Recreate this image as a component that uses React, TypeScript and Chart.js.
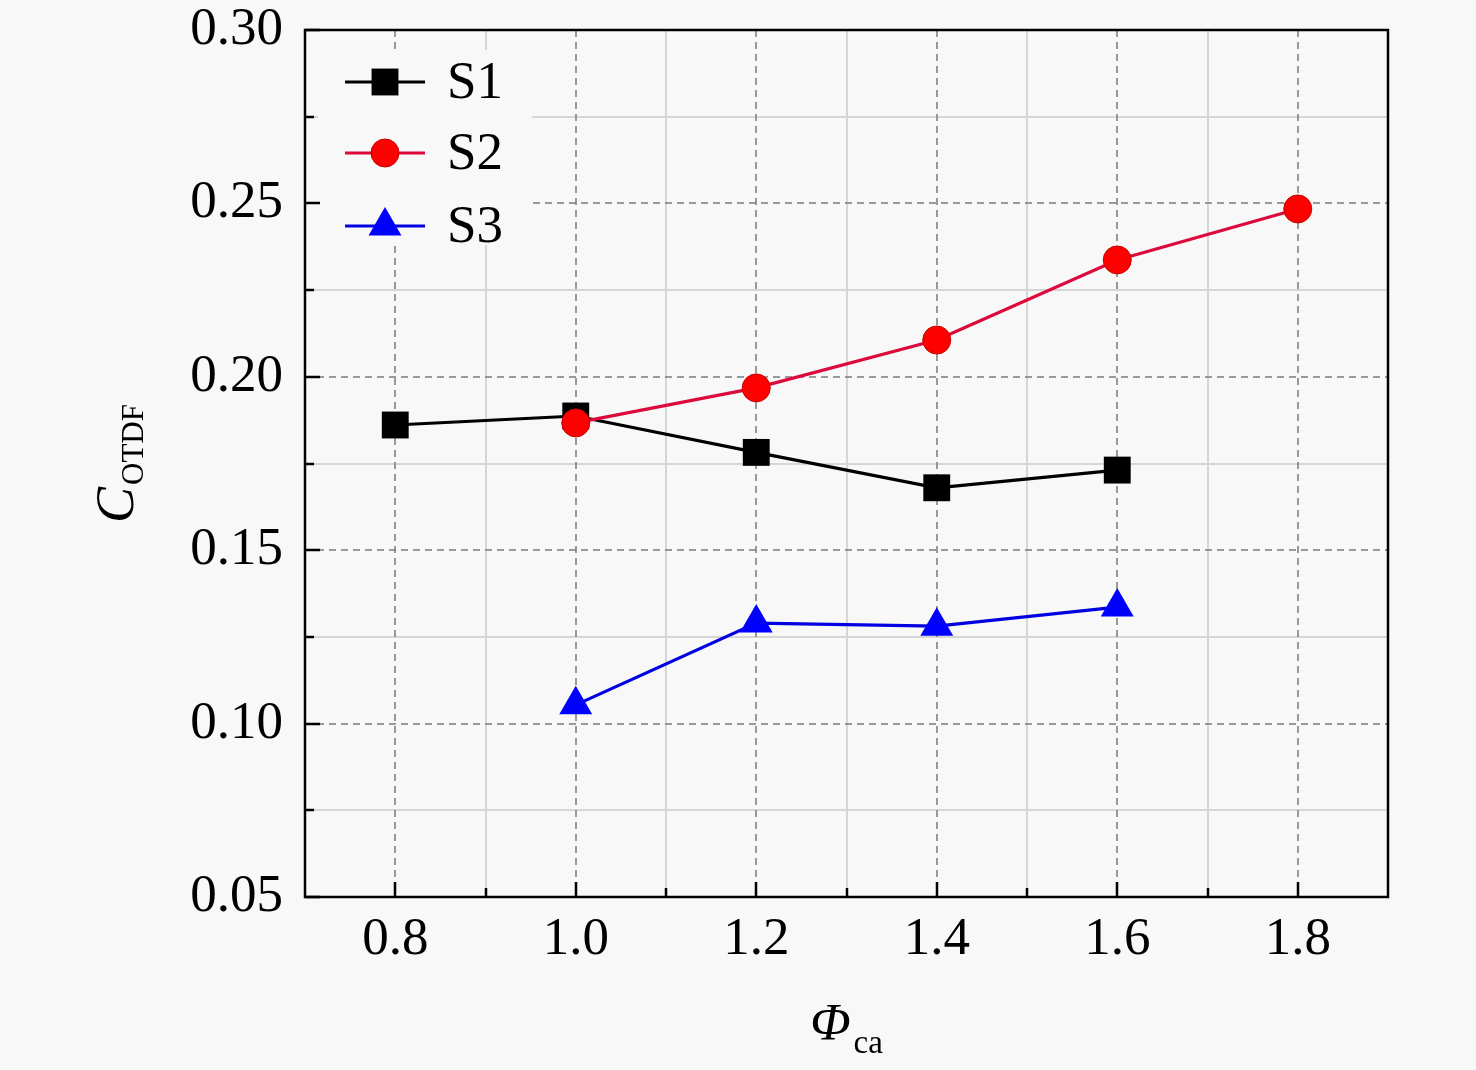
import React, { useEffect, useRef } from "react";
import { Chart, registerables } from "chart.js";
Chart.register(...registerables);

const S1_X = [0.8, 1.0, 1.2, 1.4, 1.6];
const S1_Y = [0.1861, 0.1887, 0.1782, 0.168, 0.1731];
const S2_X = [1.0, 1.2, 1.4, 1.6, 1.8];
const S2_Y = [0.1867, 0.1968, 0.2106, 0.2337, 0.2484];
const S3_X = [1.0, 1.2, 1.4, 1.6];
const S3_Y = [0.1054, 0.129, 0.1281, 0.1336];
const SERIES_NAMES = ["S1", "S2", "S3"];
const X_TICKS = [0.8, 1.0, 1.2, 1.4, 1.6, 1.8];
const X_MINOR = [0.9, 1.1, 1.3, 1.5, 1.7];
const Y_TICKS = [0.05, 0.1, 0.15, 0.2, 0.25, 0.3];
const Y_MINOR = [0.075, 0.125, 0.175, 0.225, 0.275];

const FONT = '"Liberation Serif", "Times New Roman", serif';
const BG = "#f8f8f8";

function shapePath(ctx: CanvasRenderingContext2D, style: string, r: number, x: number, y: number) {
  ctx.beginPath();
  if (style === "rect") {
    const s = Math.SQRT1_2 * r;
    ctx.rect(x - s, y - s, 2 * s, 2 * s);
  } else if (style === "triangle") {
    let rad = 0;
    ctx.moveTo(x + Math.sin(rad) * r, y - Math.cos(rad) * r);
    rad += (2 * Math.PI) / 3;
    ctx.lineTo(x + Math.sin(rad) * r, y - Math.cos(rad) * r);
    rad += (2 * Math.PI) / 3;
    ctx.lineTo(x + Math.sin(rad) * r, y - Math.cos(rad) * r);
    ctx.closePath();
  } else {
    ctx.arc(x, y, r, 0, Math.PI * 2);
    ctx.closePath();
  }
}

const decor = {
  id: "decor",
  beforeDraw(chart: any) {
    const ctx = chart.ctx;
    ctx.save();
    ctx.fillStyle = BG;
    ctx.fillRect(0, 0, chart.width, chart.height);
    ctx.restore();
  },
  beforeDatasetsDraw(chart: any) {
    const { ctx, chartArea: a, scales } = chart;
    const xs = scales.x, ys = scales.y;
    ctx.save();
    ctx.strokeStyle = "#d6d6d6";
    ctx.lineWidth = 2;
    ctx.setLineDash([]);
    X_MINOR.forEach((v) => {
      const px = Math.round(xs.getPixelForValue(v));
      ctx.beginPath(); ctx.moveTo(px, a.top); ctx.lineTo(px, a.bottom); ctx.stroke();
    });
    Y_MINOR.forEach((v) => {
      const py = Math.round(ys.getPixelForValue(v));
      ctx.beginPath(); ctx.moveTo(a.left, py); ctx.lineTo(a.right, py); ctx.stroke();
    });
    ctx.strokeStyle = "#7a7a7a";
    ctx.lineWidth = 1.5;
    ctx.setLineDash([7, 5]);
    X_TICKS.forEach((v) => {
      const px = Math.round(xs.getPixelForValue(v));
      ctx.beginPath(); ctx.moveTo(px, a.top); ctx.lineTo(px, a.bottom); ctx.stroke();
    });
    Y_TICKS.forEach((v) => {
      const py = Math.round(ys.getPixelForValue(v));
      ctx.beginPath(); ctx.moveTo(a.left, py); ctx.lineTo(a.right, py); ctx.stroke();
    });
    ctx.restore();
  },
  afterDatasetsDraw(chart: any) {
    const { ctx, chartArea: a, scales } = chart;
    const xs = scales.x, ys = scales.y;
    ctx.save();
    // legend
    const lx = a.left + 13, ly = a.top + 20;
    ctx.fillStyle = BG;
    ctx.fillRect(lx, ly, 214, 195);
    const rows = [52, 123, 196];
    chart.data.datasets.forEach((ds: any, i: number) => {
      const y = a.top + rows[i];
      const x0 = a.left + 40, x1 = a.left + 120, xm = a.left + 80;
      ctx.strokeStyle = ds.borderColor;
      ctx.lineWidth = ds.borderWidth;
      ctx.setLineDash([]);
      ctx.beginPath(); ctx.moveTo(x0, y); ctx.lineTo(x1, y); ctx.stroke();
      shapePath(ctx, ds.pointStyle, ds.pointRadius, xm, y);
      ctx.fillStyle = ds.pointBackgroundColor;
      ctx.fill();
      if (ds.pointBorderWidth > 0) {
        ctx.strokeStyle = ds.pointBorderColor;
        ctx.lineWidth = ds.pointBorderWidth;
        ctx.stroke();
      }
      ctx.fillStyle = "#000";
      ctx.font = `53px ${FONT}`;
      ctx.textAlign = "left";
      ctx.textBaseline = "middle";
      ctx.fillText(SERIES_NAMES[i], a.left + 142, y + 2);
    });
    // frame
    ctx.strokeStyle = "#000";
    ctx.lineWidth = 2.5;
    ctx.setLineDash([]);
    ctx.strokeRect(a.left, a.top, a.right - a.left, a.bottom - a.top);
    X_TICKS.forEach((v) => {
      const px = Math.round(xs.getPixelForValue(v));
      ctx.beginPath(); ctx.moveTo(px, a.bottom); ctx.lineTo(px, a.bottom - 15); ctx.stroke();
    });
    X_MINOR.forEach((v) => {
      const px = Math.round(xs.getPixelForValue(v));
      ctx.beginPath(); ctx.moveTo(px, a.bottom); ctx.lineTo(px, a.bottom - 9); ctx.stroke();
    });
    Y_TICKS.forEach((v) => {
      const py = Math.round(ys.getPixelForValue(v));
      ctx.beginPath(); ctx.moveTo(a.left, py); ctx.lineTo(a.left + 15, py); ctx.stroke();
    });
    Y_MINOR.forEach((v) => {
      const py = Math.round(ys.getPixelForValue(v));
      ctx.beginPath(); ctx.moveTo(a.left, py); ctx.lineTo(a.left + 9, py); ctx.stroke();
    });
    // x title
    ctx.fillStyle = "#000";
    ctx.textBaseline = "alphabetic";
    ctx.textAlign = "left";
    const bigX = `italic 53px ${FONT}`;
    const smallF = `33px ${FONT}`;
    ctx.font = bigX;
    const wPhi = ctx.measureText("\u03A6").width;
    ctx.font = smallF;
    const wCa = ctx.measureText("ca").width;
    const cx = (a.left + a.right) / 2;
    const startX = cx - (wPhi + 3 + wCa) / 2;
    ctx.font = bigX;
    ctx.fillText("\u03A6", startX, a.bottom + 143);
    ctx.font = smallF;
    ctx.fillText("ca", startX + wPhi + 3, a.bottom + 156);
    // y title
    ctx.font = `italic 54px ${FONT}`;
    const wC = ctx.measureText("C").width;
    ctx.font = `31px ${FONT}`;
    const wSub = ctx.measureText("OTDF").width;
    const cy = (a.top + a.bottom) / 2;
    ctx.translate(a.left - 172, cy + (wC + 2 + wSub) / 2);
    ctx.rotate(-Math.PI / 2);
    ctx.font = `italic 54px ${FONT}`;
    ctx.fillText("C", 0, 0);
    ctx.font = `31px ${FONT}`;
    ctx.fillText("OTDF", wC + 2, 10);
    ctx.restore();
  },
};

export default function App() {
  const ref = useRef<HTMLCanvasElement | null>(null);
  useEffect(() => {
    if (!ref.current) return;
    const toPts = (xs: number[], ys: number[]) => xs.map((x, i) => ({ x, y: ys[i] }));
    const chart = new Chart(ref.current, {
      type: "line",
      data: {
        datasets: [
          {
            label: SERIES_NAMES[0],
            data: toPts(S1_X, S1_Y),
            borderColor: "#000000",
            borderWidth: 3.2,
            pointStyle: "rect",
            pointRadius: 19,
            pointBackgroundColor: "#000000",
            pointBorderColor: "#000000",
            pointBorderWidth: 0,
            order: 1,
          },
          {
            label: SERIES_NAMES[1],
            data: toPts(S2_X, S2_Y),
            borderColor: "#dc0a3c",
            borderWidth: 3.2,
            pointStyle: "circle",
            pointRadius: 14,
            pointBackgroundColor: "#ff0000",
            pointBorderColor: "#c80000",
            pointBorderWidth: 1,
            order: 0,
          },
          {
            label: SERIES_NAMES[2],
            data: toPts(S3_X, S3_Y),
            borderColor: "#0000e0",
            borderWidth: 3.2,
            pointStyle: "triangle",
            pointRadius: 19,
            pointBackgroundColor: "#0000ff",
            pointBorderColor: "#0000ff",
            pointBorderWidth: 0,
            order: 2,
          },
        ] as any,
      },
      options: {
        animation: false,
        responsive: false,
        devicePixelRatio: 1,
        layout: { padding: { left: 0, right: 88, top: 30, bottom: 0 } },
        plugins: { legend: { display: false }, tooltip: { enabled: false } },
        scales: {
          x: {
            type: "linear",
            min: 0.7,
            max: 1.9,
            afterBuildTicks: (s: any) => { s.ticks = X_TICKS.map((v) => ({ value: v })); },
            afterFit: (s: any) => { s.height = 173; s.paddingLeft = 0; s.paddingRight = 0; s.paddingTop = 0; s.paddingBottom = 0; },
            grid: { display: false, drawTicks: false },
            border: { display: false },
            ticks: {
              autoSkip: false,
              maxRotation: 0,
              padding: 17,
              color: "#000",
              font: { family: FONT, size: 53, lineHeight: 1 },
              callback: (v: any) => Number(v).toFixed(1),
            },
          },
          y: {
            type: "linear",
            min: 0.05,
            max: 0.3,
            afterBuildTicks: (s: any) => { s.ticks = Y_TICKS.map((v) => ({ value: v })); },
            afterFit: (s: any) => { s.width = 305; s.paddingLeft = 0; s.paddingRight = 0; s.paddingTop = 0; s.paddingBottom = 0; },
            grid: { display: false, drawTicks: false },
            border: { display: false },
            ticks: {
              autoSkip: false,
              padding: 22,
              color: "#000",
              font: { family: FONT, size: 53, lineHeight: 1 },
              callback: (v: any) => Number(v).toFixed(2),
            },
          },
        },
      } as any,
      plugins: [decor],
    });
    return () => chart.destroy();
  }, []);
  return (
    <div style={{ position: "absolute", left: 0, top: 0, width: 1476, height: 1070 }}>
      <canvas ref={ref} width={1476} height={1070} style={{ width: 1476, height: 1070, display: "block" }} />
    </div>
  );
}
